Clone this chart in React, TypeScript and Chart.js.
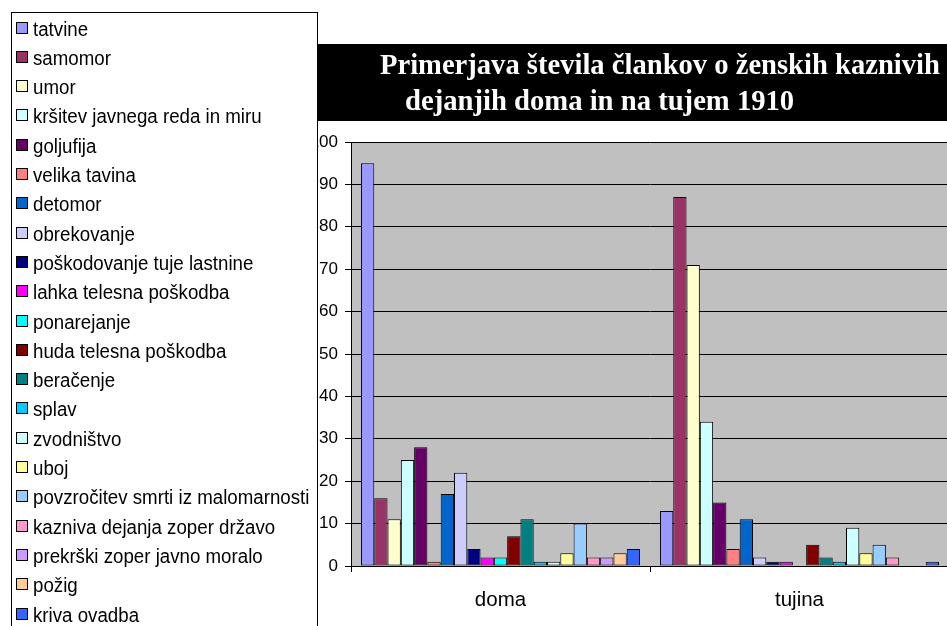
import React, { useEffect, useRef } from "react";
import { Chart, registerables } from "chart.js";

Chart.register(...registerables);

const categories = ["doma", "tujina"];

const seriesNames = [
  "tatvine",
  "samomor",
  "umor",
  "kršitev javnega reda in miru",
  "goljufija",
  "velika tavina",
  "detomor",
  "obrekovanje",
  "poškodovanje tuje lastnine",
  "lahka telesna poškodba",
  "ponarejanje",
  "huda telesna poškodba",
  "beračenje",
  "splav",
  "zvodništvo",
  "uboj",
  "povzročitev smrti iz malomarnosti",
  "kazniva dejanja zoper državo",
  "prekrški zoper javno moralo",
  "požig",
  "kriva ovadba",
];

const domaValues: (number | null)[] = [95, 16, 11, 25, 28, 1, 17, 22, 4, 2, 2, 7, 11, 1, 1, 3, 10, 2, 2, 3, 4];
const tujinaValues: (number | null)[] = [13, 87, 71, 34, 15, 4, 11, 2, 1, 1, null, 5, 2, 1, 9, 3, 5, 2, null, null, 1];

const seriesColors = [
  "#9999FF", "#993366", "#FFFFCC", "#CCFFFF", "#660066", "#FF8080", "#0066CC",
  "#CCCCFF", "#000080", "#FF00FF", "#00FFFF", "#800000", "#008080", "#00CCFF",
  "#CCFFFF", "#FFFF99", "#99CCFF", "#FF99CC", "#CC99FF", "#FFCC99", "#3366FF",
];

const titleLines = ["Primerjava števila člankov o ženskih kaznivih", "dejanjih doma in na tujem 1910"];

const yMin = 0;
const yMax = 100;
const yStep = 10;

const plotBgPlugin = {
  id: "plotBg",
  beforeDraw(chart: any) {
    const { ctx, chartArea } = chart;
    ctx.save();
    ctx.fillStyle = "#C0C0C0";
    ctx.fillRect(chartArea.left, chartArea.top, chartArea.right - chartArea.left, chartArea.bottom - chartArea.top);
    ctx.restore();
  },
};

function scaledText(ctx: CanvasRenderingContext2D, text: string, x: number, y: number, sx: number) {
  ctx.save();
  ctx.translate(x, y);
  ctx.scale(sx, 1);
  ctx.fillText(text, 0, 0);
  ctx.restore();
}

const overlayPlugin = {
  id: "overlay",
  afterDraw(chart: any) {
    const ctx = chart.ctx;
    ctx.save();
    // title box
    ctx.fillStyle = "#000";
    ctx.fillRect(318, 44, chart.width - 318, 77);
    ctx.fillStyle = "#fff";
    ctx.font = "bold 30px 'Liberation Serif', 'Times New Roman', serif";
    ctx.textBaseline = "alphabetic";
    ctx.textAlign = "left";
    scaledText(ctx, titleLines[0], 380, 73.5, 0.953);
    scaledText(ctx, titleLines[1], 405, 109.5, 0.955);

    // legend
    ctx.fillStyle = "#fff";
    ctx.fillRect(11, 12, 306, 640);
    ctx.strokeStyle = "#000";
    ctx.lineWidth = 1;
    ctx.strokeRect(11.5, 12.5, 306, 640);
    ctx.font = "20px 'Liberation Sans', Arial, sans-serif";
    ctx.textBaseline = "alphabetic";
    chart.data.datasets.forEach((ds: any, i: number) => {
      const cy = 28 + i * 29.3;
      const sy = Math.round(cy - 6.5) + 0.5;
      ctx.fillStyle = ds.backgroundColor;
      ctx.fillRect(16.5, sy, 11, 11);
      ctx.strokeStyle = "#000";
      ctx.strokeRect(16.5, sy, 11, 11);
      ctx.fillStyle = "#000";
      scaledText(ctx, ds.label, 33, cy + 7.5, 0.935);
    });
    ctx.restore();
  },
};

export default function App() {
  const ref = useRef<HTMLCanvasElement | null>(null);

  useEffect(() => {
    document.body.style.margin = "0";
    const canvas = ref.current;
    if (!canvas) return;
    const datasets = seriesNames.map((name, i) => ({
      label: name,
      data: [domaValues[i], tujinaValues[i]],
      backgroundColor: seriesColors[i],
      borderColor: "#000",
      borderWidth: 1,
      borderSkipped: false,
      categoryPercentage: 21 / 22.5,
      barPercentage: 1,
    }));
    const chart = new Chart(canvas, {
      type: "bar",
      data: { labels: categories, datasets },
      options: {
        responsive: false,
        animation: false,
        devicePixelRatio: 1,
        layout: { padding: { top: 142, left: 0, right: 3, bottom: 0 } },
        plugins: {
          legend: { display: false },
          title: { display: false },
          tooltip: { enabled: false },
        },
        scales: {
          x: {
            grid: { display: true, drawOnChartArea: false, drawTicks: true, tickLength: 6, color: "#000", offset: true },
            border: { display: true, color: "#000" },
            ticks: {
              color: "#000",
              font: { family: "'Liberation Sans', Arial, sans-serif", size: 20.5 },
              padding: 16,
            },
            afterFit: (s: any) => {
              s.height = 60;
            },
          },
          y: {
            min: yMin,
            max: yMax,
            ticks: {
              stepSize: yStep,
              color: "#000",
              font: { family: "'Liberation Sans', Arial, sans-serif", size: 17 },
              padding: 7,
            },
            grid: { color: "#000", tickLength: 6 },
            border: { display: true, color: "#000" },
            afterFit: (s: any) => {
              s.width = 351;
            },
          },
        },
      } as any,
      plugins: [plotBgPlugin, overlayPlugin],
    });
    return () => chart.destroy();
  }, []);

  return (
    <div style={{ width: 947, height: 626, overflow: "hidden", position: "relative", background: "#fff" }}>
      <canvas ref={ref} width={952} height={626} style={{ display: "block" }} />
    </div>
  );
}
